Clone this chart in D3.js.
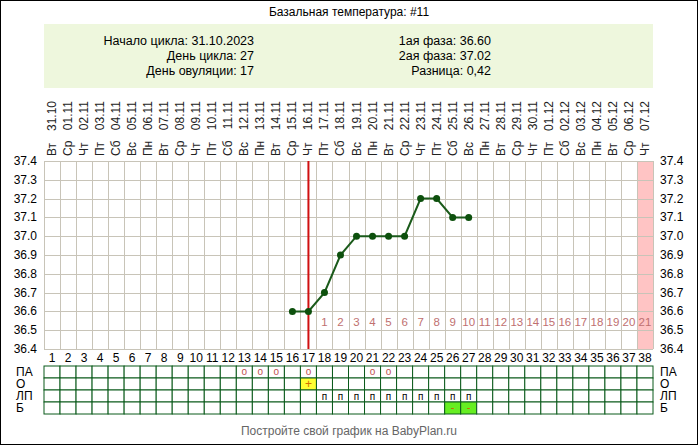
<!DOCTYPE html><html><head><meta charset="utf-8"><script src="https://cdn.jsdelivr.net/npm/d3@7"></script>
<style>body{margin:0}svg{font-family:Arial,"Liberation Sans",sans-serif}</style></head><body><svg id="c" width="698" height="445"></svg>
<script>
const days=d3.range(1,39);
const dates=["Вт 31.10","Ср 01.11","Чт 02.11","Пт 03.11","Сб 04.11","Вс 05.11","Пн 06.11","Вт 07.11","Ср 08.11","Чт 09.11","Пт 10.11","Сб 11.11","Вс 12.11","Пн 13.11","Вт 14.11","Ср 15.11","Чт 16.11","Пт 17.11","Сб 18.11","Вс 19.11","Пн 20.11","Вт 21.11","Ср 22.11","Чт 23.11","Пт 24.11","Сб 25.11","Вс 26.11","Пн 27.11","Вт 28.11","Ср 29.11","Чт 30.11","Пт 01.12","Сб 02.12","Вс 03.12","Пн 04.12","Вт 05.12","Ср 06.12","Чт 07.12"];
const tempDays=[16,17,18,19,20,21,22,23,24,25,26,27];
const temps=[36.6,36.6,36.7,36.9,37.0,37.0,37.0,37.0,37.2,37.2,37.1,37.1];
const yTicks=[36.4,36.5,36.6,36.7,36.8,36.9,37.0,37.1,37.2,37.3,37.4];
const ovuDay=17, lastDay=38;
const paDays=[13,14,15,17,21,22];
const oDays=[17];
const lpDays=[18,19,20,21,22,23,24,25,26,27];
const bDays=[26,27];
const rowLabels=["ПА","О","ЛП","Б"];
const info=[["Начало цикла: 31.10.2023","День цикла: 27","День овуляции: 17"],["1ая фаза: 36.60","2ая фаза: 37.02","Разница: 0,42"]];

const svg=d3.select("#c");
svg.append("rect").attr("x",0.5).attr("y",0.5).attr("width",697).attr("height",444).attr("fill","#fff").attr("stroke","#000");
const L=44,R=653;
const x=d3.scaleBand().domain(days).range([L,R]);
const y=d3.scaleLinear().domain([36.4,37.4]).range([349,161]);
const cx=d=>x(d)+x.bandwidth()/2;
svg.append("text").attr("x",349).attr("y",16).attr("text-anchor","middle").attr("font-size",12).text("Базальная температура: #11");
svg.append("rect").attr("x",L).attr("y",24).attr("width",R-L).attr("height",64).attr("fill","#eef7dd");
info[0].forEach((t,i)=>svg.append("text").attr("x",254).attr("y",45+i*15).attr("text-anchor","end").attr("font-size",12.5).text(t));
info[1].forEach((t,i)=>svg.append("text").attr("x",491).attr("y",45+i*15).attr("text-anchor","end").attr("font-size",12.5).text(t));
// dates
days.forEach((d,i)=>{const [w,dt]=dates[i].split(" ");
svg.append("text").attr("transform",`translate(${cx(d)+4},156) rotate(-90)`).attr("font-size",12).attr("fill","#222").text(w);
svg.append("text").attr("transform",`translate(${cx(d)+4},101) rotate(-90)`).attr("text-anchor","end").attr("font-size",12).attr("fill","#222").text(dt);});
// pink
svg.append("rect").attr("x",x(lastDay)).attr("y",y(37.4)).attr("width",x.bandwidth()).attr("height",y(36.4)-y(37.4)).attr("fill","#ffc4c4");
// grid
const g=svg.append("g").attr("stroke","#c8c4b8").attr("stroke-width",1);
days.concat([39]).forEach(d=>{const xx=Math.round(d<39?x(d):R)+0.5;g.append("line").attr("x1",xx).attr("x2",xx).attr("y1",y(37.4)).attr("y2",y(36.4));});
yTicks.forEach(t=>{const yy=Math.round(y(t))+0.5;g.append("line").attr("x1",L).attr("x2",R).attr("y1",yy).attr("y2",yy);});
yTicks.forEach(t=>{svg.append("text").attr("x",37).attr("y",y(t)+4).attr("text-anchor","end").attr("font-size",12).text(t.toFixed(1));
svg.append("text").attr("x",660).attr("y",y(t)+4).attr("font-size",12).text(t.toFixed(1));});
// luteal numbers
days.filter(d=>d>ovuDay).forEach(d=>svg.append("text").attr("x",cx(d)).attr("y",y(36.6)+15).attr("text-anchor","middle").attr("font-size",11.5).attr("fill","#c07070").text(d-ovuDay));
// ovulation line
svg.append("line").attr("x1",cx(ovuDay)).attr("x2",cx(ovuDay)).attr("y1",y(37.4)).attr("y2",y(36.4)).attr("stroke","#d01010").attr("stroke-width",2);
const pts=tempDays.map((d,i)=>[cx(d),y(temps[i])]);
svg.append("path").attr("d",d3.line()(pts)).attr("fill","none").attr("stroke","#1a5a1a").attr("stroke-width",2);
pts.forEach(p=>svg.append("circle").attr("cx",p[0]).attr("cy",p[1]).attr("r",3.5).attr("fill","#0d500d"));
// day numbers
days.forEach(d=>svg.append("text").attr("x",cx(d)).attr("y",362).attr("text-anchor","middle").attr("font-size",12).text(d));
// table
const ty=d3.scaleBand().domain(rowLabels).range([366,414]);
const fills={"О":{d:oDays,c:"#ffff33"},"Б":{d:bDays,c:"#66ee22"}};
rowLabels.forEach(r=>{days.forEach(d=>{let f="#fff";if(fills[r]&&fills[r].d.includes(d))f=fills[r].c;
svg.append("rect").attr("x",x(d)).attr("y",ty(r)).attr("width",x.bandwidth()).attr("height",ty.bandwidth()).attr("fill",f).attr("stroke","#0a5a1a");});
svg.append("text").attr("x",16).attr("y",ty(r)+10).attr("font-size",12).text(r);
svg.append("text").attr("x",660).attr("y",ty(r)+10).attr("font-size",12).text(r);});
paDays.forEach(d=>svg.append("text").attr("x",cx(d)).attr("y",ty("ПА")+9).attr("text-anchor","middle").attr("font-size",10).attr("fill","#c05050").text("о"));
oDays.forEach(d=>svg.append("text").attr("x",cx(d)).attr("y",ty("О")+10).attr("text-anchor","middle").attr("font-size",12).attr("fill","#d07000").text("+"));
lpDays.forEach(d=>svg.append("text").attr("x",cx(d)).attr("y",ty("ЛП")+10).attr("text-anchor","middle").attr("font-size",10).text("п"));
bDays.forEach(d=>svg.append("text").attr("x",cx(d)).attr("y",ty("Б")+9).attr("text-anchor","middle").attr("font-size",11).attr("fill","#cc6600").text("-"));
svg.append("text").attr("x",349).attr("y",435).attr("text-anchor","middle").attr("font-size",12).attr("fill","#666").text("Постройте свой график на BabyPlan.ru");
</script></body></html>
